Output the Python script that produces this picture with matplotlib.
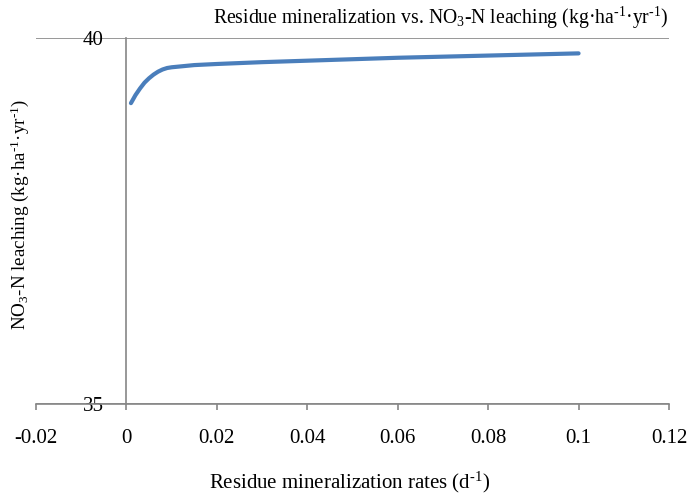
import numpy as np
import matplotlib
matplotlib.use("Agg")
import matplotlib.pyplot as plt
from matplotlib.pyplot import MultipleLocator

plt.rcParams['font.family'] = ['Liberation Serif', 'DejaVu Serif']
plt.rcParams['mathtext.fontset'] = 'custom'
plt.rcParams['mathtext.rm'] = 'Liberation Serif'
plt.rcParams['mathtext.it'] = 'Liberation Serif'

# residue mineralization rate (d-1) vs NO3-N leaching (kg ha-1 yr-1)
rate = [0.001, 0.002, 0.003, 0.004, 0.005, 0.006, 0.007, 0.008, 0.009, 0.01,
        0.015, 0.02, 0.03, 0.04, 0.05, 0.06, 0.07, 0.08, 0.09, 0.1]
leach = [39.11, 39.22, 39.31, 39.39, 39.45, 39.50, 39.54, 39.57, 39.59, 39.60,
         39.63, 39.645, 39.67, 39.69, 39.71, 39.73, 39.745, 39.76, 39.775, 39.79]
xticks = [-0.02, 0, 0.02, 0.04, 0.06, 0.08, 0.1, 0.12]
xlabels = ['-0.02', '0', '0.02', '0.04', '0.06', '0.08', '0.1', '0.12']

fig = plt.figure(figsize=(6.89, 4.99), dpi=100)
ax = fig.add_axes([36/689, 1-404/499, 633/689, 366/499])

grey = '#868686'
ax.plot(rate, leach, color='#4A7EBB', linewidth=3, solid_capstyle='round',
        solid_joinstyle='round', zorder=3)

ax.set_xlim(-0.02, 0.12)
ax.set_ylim(35, 40)
ax.set_xticks(xticks)
ax.set_xticklabels(xlabels)
ax.set_yticks([35, 40])
ax.set_yticklabels(['35', '40'])

ax.spines['left'].set_position(('data', 0))
ax.spines['right'].set_visible(False)
ax.spines['top'].set_visible(False)
for s in ['left', 'bottom']:
    ax.spines[s].set_color(grey)
    ax.spines[s].set_linewidth(1.2)

ax.yaxis.grid(True, color=grey, linewidth=1.2)
ax.set_axisbelow(True)

ax.tick_params(axis='x', direction='out', length=4, width=1.2, color=grey,
               labelsize=15, pad=14)
ax.tick_params(axis='y', length=0, labelsize=15, pad=16.5)

sup = '$^{\\text{-1}}$'
fig.text(441/689, 1-18/499,
         'Residue mineralization vs. NO$_3$-N leaching (kg·ha' + sup + '·yr' + sup + ')',
         ha='center', va='center', fontsize=14.2)
fig.text(350/689, 1-482/499, 'Residue mineralization rates (d' + sup + ')',
         ha='center', va='center', fontsize=15)
fig.text(20/689, 1-214/499, 'NO$_3$-N leaching (kg·ha' + sup + '·yr' + sup + ')',
         ha='center', va='center', fontsize=13.7, rotation=90)

fig.savefig('out.png', dpi=100)
